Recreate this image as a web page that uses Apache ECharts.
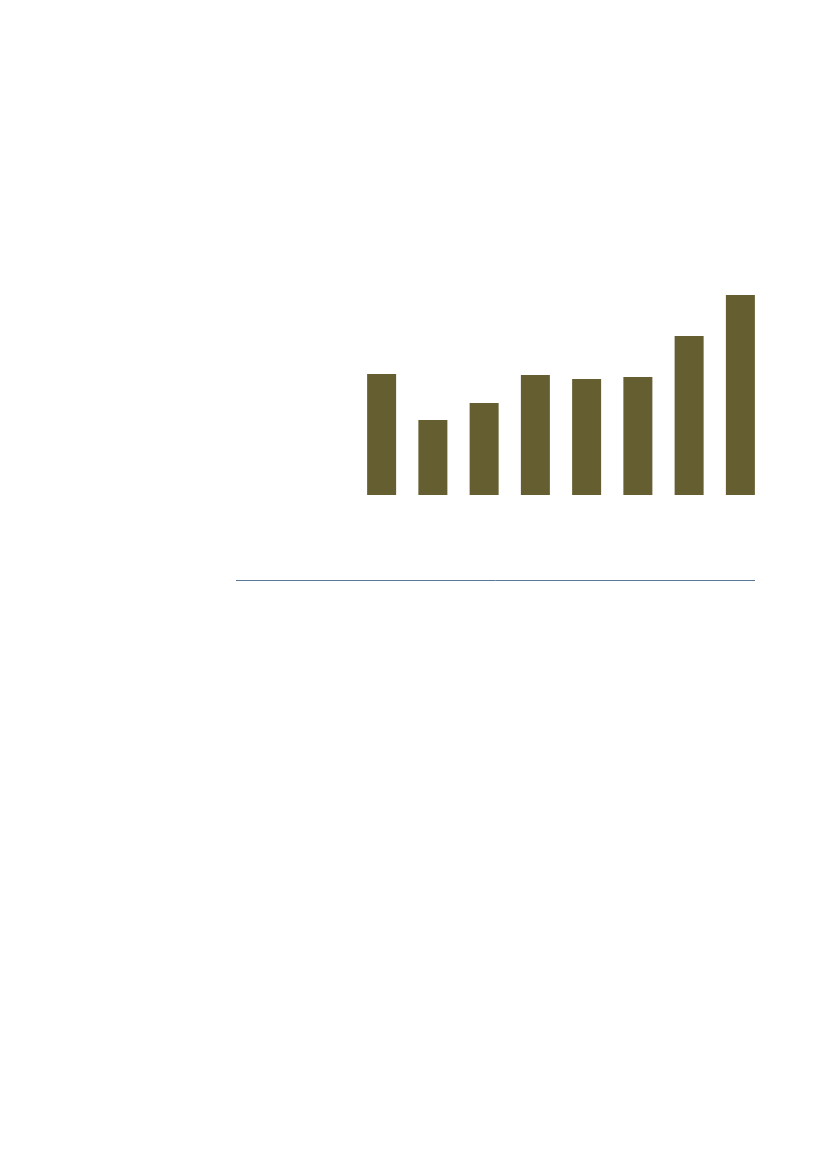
<!DOCTYPE html>
<html>
<head>
<meta charset="utf-8">
<script src="https://cdn.jsdelivr.net/npm/echarts@6/dist/echarts.min.js"></script>
<style>
html,body{margin:0;padding:0;background:#fff;}
#chart{width:827px;height:1169px;}
</style>
</head>
<body>
<div id="chart"></div>
<script>
const categories = ['1','2','3','4','5','6','7','8'];
const values = [121, 75, 92, 120, 116, 118, 159, 200];
const barColor = '#655e30';

const chart = echarts.init(document.getElementById('chart'), null, {renderer:'canvas'});
chart.setOption({
  backgroundColor: '#ffffff',
  animation: false,
  grid: { left: 356, right: 61, top: 295, bottom: 674 },
  xAxis: {
    type: 'category',
    data: categories,
    show: false
  },
  yAxis: {
    type: 'value',
    min: 0,
    max: 200,
    show: false
  },
  series: [{
    type: 'bar',
    data: values,
    barWidth: 29,
    itemStyle: { color: barColor }
  }],
  graphic: [{
    type: 'line',
    shape: { x1: 236, y1: 580.5, x2: 755, y2: 580.5 },
    style: { stroke: '#56789a', lineWidth: 1 }
  }]
});
</script>
</body>
</html>
